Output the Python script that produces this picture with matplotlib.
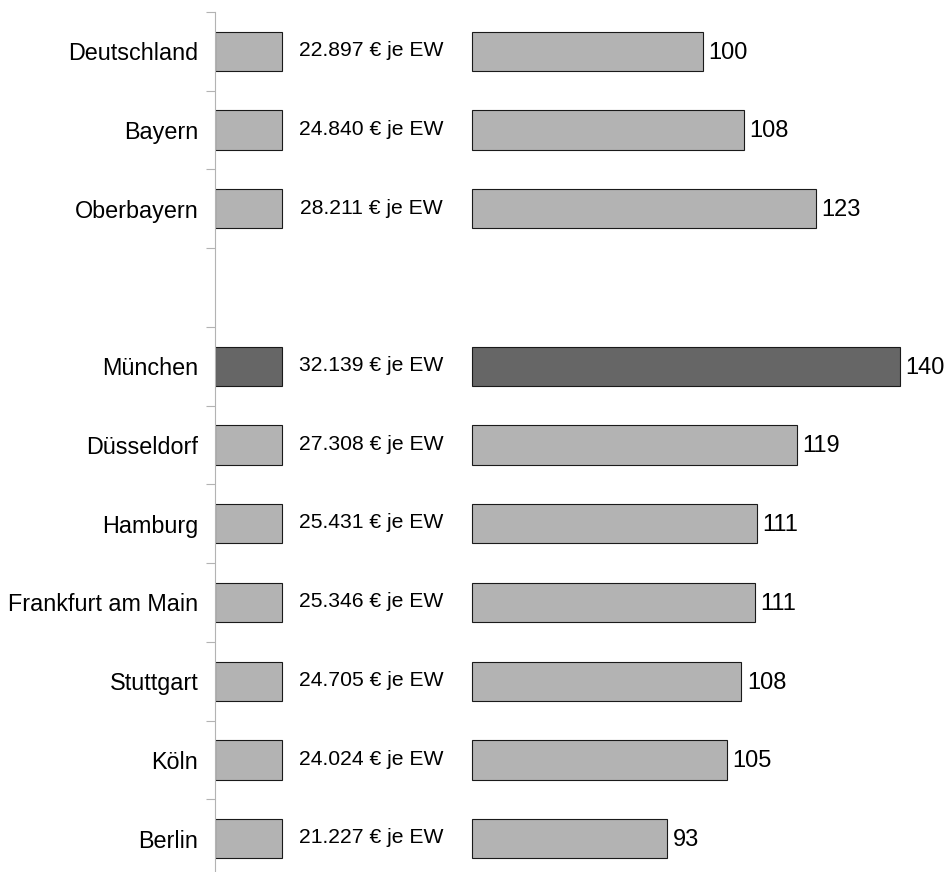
import numpy as np
import matplotlib.pyplot as plt

plt.rcParams['font.family'] = ['Liberation Sans', 'DejaVu Sans']

# Kaufkraft je Einwohner und Index (Deutschland = 100)
regionen = ["Deutschland", "Bayern", "Oberbayern", "",
            "München", "Düsseldorf", "Hamburg", "Frankfurt am Main",
            "Stuttgart", "Köln", "Berlin"]
euro_je_ew = [22897, 24840, 28211, np.nan,
              32139, 27308, 25431, 25346, 24705, 24024, 21227]
index = [100, 108, 123, np.nan, 140, 119, 111, 111, 108, 105, 93]
hervorgehoben = "München"

# Balkenaufbau: fester Block, leere Lücke für die Beschriftung, Rest
block = 3150
luecke = 12060

hell = "#b3b3b3"
dunkel = "#666666"
kante = "#1a1a1a"

fig = plt.figure(figsize=(9.46, 8.72), dpi=100)
ax = fig.add_axes([215 / 946, -6 / 872, 731 / 946, 866 / 872])

y = np.arange(len(regionen))
for yi, name, eur, idx in zip(y, regionen, euro_je_ew, index):
    if not name:
        continue
    farbe = dunkel if name == hervorgehoben else hell
    ax.barh(yi, block, left=0, height=0.5, color=farbe, edgecolor=kante, linewidth=0.8)
    ax.barh(yi, eur - luecke, left=luecke, height=0.5, color=farbe,
            edgecolor=kante, linewidth=0.8)
    ax.text((block + luecke) / 2 - 250, yi - 0.01,
            f"{eur:,.0f}".replace(",", ".") + " € je EW",
            ha="center", va="center", fontsize=15.2)
    ax.annotate(f"{idx:.0f}", (eur, yi), xytext=(4, -1), textcoords="offset points",
                ha="left", va="center", fontsize=17)

ax.set_xlim(0, 34320)
ax.set_ylim(len(regionen) - 0.5, -0.5)

ax.set_yticks(y)
ax.set_yticklabels(regionen, fontsize=16.8)
ax.set_yticks(np.arange(len(regionen) + 1) - 0.5, minor=True)
ax.tick_params(axis="y", which="major", length=0, pad=12)
ax.tick_params(axis="y", which="minor", length=6.5, width=0.8, color="#b3b3b3")
ax.set_xticks([])

for s in ["top", "right", "bottom"]:
    ax.spines[s].set_visible(False)
ax.spines["left"].set_color("#b3b3b3")
ax.spines["left"].set_linewidth(0.8)

fig.savefig("out.png", dpi=100)
